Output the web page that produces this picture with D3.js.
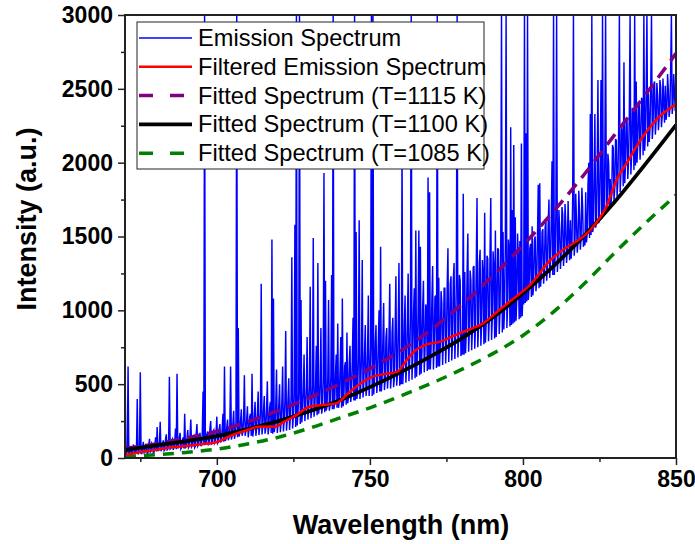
<!DOCTYPE html>
<html><head><meta charset="utf-8">
<script src="https://cdn.jsdelivr.net/npm/d3@7"></script>
<style>body{margin:0;background:#fff}svg{display:block}</style>
</head><body><svg id="c" width="695" height="544"></svg>
<script>
// ---------- DATA ----------
const emissionStart = 670, emissionStep = 0.25;
const emission = [
 690,25,30,45, 620,20,15,70, 60,20,25,85, 80,30,30,60, 400,25,35,90,
 580,30,30,75, 110,35,40,95, 75,30,35,85, 130,40,45,100, 90,35,40,80,
 140,45,210,50, 50,110,245,45, 60,95,120,50, 55,130,160,55, 60,100,550,60,
 65,120,130,55, 70,110,200,60, 570,65,75,140, 170,60,70,120, 140,65,300,70,
 75,130,190,70, 80,150,260,75, 85,140,150,70, 80,160,230,80, 90,140,170,85,
 85,170,450,90, 3000,95,100,160, 180,90,95,200, 250,95,100,180, 190,100,110,170,
 280,100,110,190, 230,105,120,200, 300,110,620,115, 130,210,260,120, 140,220,620,125,
 150,230,320,130, 160,240,3000,140, 880,145,170,250, 330,150,175,270, 560,150,185,260,
 350,140,190,280, 300,150,570,145, 195,290,380,150, 200,300,450,155, 205,310,1180,160,
 210,320,420,165, 200,330,520,160, 210,340,380,170, 1480,165,1080,175, 215,350,600,170,
 230,360,500,175, 240,380,620,180, 250,390,860,185, 260,400,540,190, 270,420,1360,200,
 280,430,1580,210, 3000,220,300,440, 3000,230,1070,240, 310,460,700,250, 330,470,820,260,
 340,480,1160,270, 330,490,1490,280, 340,500,760,290, 1320,300,350,510, 880,300,340,520,
 1930,310,1200,320, 350,540,1070,320, 360,550,1240,330, 3000,330,370,560, 700,340,910,340,
 380,600,820,340, 1080,350,400,620, 650,360,850,370, 410,640,760,380, 440,660,950,390,
 3000,390,1530,400, 450,680,1610,400, 480,700,1340,410, 500,720,900,420, 480,740,1100,420,
 520,760,3000,420, 3000,430,530,780, 900,440,520,790, 1000,450,1430,450, 540,810,1050,460,
 530,820,880,470, 560,840,1180,470, 550,850,950,480, 540,870,1230,490, 560,880,1320,490,
 600,500,2100,500, 620,900,1100,510, 640,930,1250,520, 660,950,3000,530, 680,980,1150,540,
 1540,550,700,1000, 1540,560,1430,570, 720,1020,1200,580, 730,1040,1000,590, 1900,600,1800,600,
 740,1070,1300,600, 760,1090,1100,610, 3000,620,1220,620, 770,1130,1050,630, 780,1150,1150,640,
 790,1160,1420,650, 800,1180,1230,660, 810,1200,1320,670, 820,1220,3000,680, 830,1240,1200,690,
 840,700,1790,700, 1260,710,850,1250, 1520,720,860,1270, 1200,730,870,1290, 1300,740,880,1300,
 1760,750,890,1320, 1410,760,900,1340, 1250,770,1660,780, 920,1370,1350,790, 940,1390,1760,800,
 950,1400,1300,810, 1540,820,970,1420, 1410,840,990,1440, 3000,850,1530,870, 1010,1460,3000,880,
 1030,1480,1400,890, 2240,900,1680,910, 2120,920,1630,930, 1080,1520,1350,940, 1470,950,2130,960,
 1120,1040,3000,1050, 2200,1060,3000,1070, 1150,1420,1450,1090, 1570,1100,1180,1480, 1500,1130,1200,1500,
 1850,1150,1860,1160, 1250,1530,1550,1180, 1270,1560,1600,1200, 1300,1590,1750,1220, 1320,1620,2010,1240,
 3000,1240,1350,1650, 3000,1260,1370,1680, 1550,1280,1390,1700, 1650,1300,1400,1720, 1580,1320,1420,1740,
 1500,1340,1610,1350, 1440,1760,3000,1370, 1460,1790,1600,1390, 1470,1810,1650,1410, 1490,1830,1700,1430,
 1500,1440,1800,1460, 1520,1850,2000,1490, 2330,1510,3000,1530, 1560,1900,2330,1560, 1600,1940,2560,1590,
 1630,1980,2560,1620, 3000,1640,1660,2020, 3000,1680,1700,2060, 2000,1700,1890,1720, 1780,2120,2100,1740,
 1830,2160,2150,1770, 1870,2200,3000,1800, 1920,2240,2200,1840, 2680,1860,1980,2290, 2300,1890,2010,2330,
 3000,1920,2050,2370, 2350,1950,3000,1980, 2550,2000,2110,2410, 2400,2020,2150,2440, 2420,2050,3000,2080,
 2180,2480,3000,2110, 2470,2140,2230,2510, 3000,2160,2250,2530, 2550,2190,2280,2540, 2450,2220,2300,2560,
 2510,2240,2320,2570, 2400,2270,2520,2290, 2340,2600,2490,2310, 2360,2620,3000,2330, 2380,2600,2470,2350,
 2400
];
const filteredWl = [670,675,680,685,690,695,700,705,710,714,719,722,726,730,735,739,743,747,751,755,759,762,765,768,773,778,782,787,791,797,802,809,813,822,827,831,834,838,844,850];
const filteredVal = [20,40,55,72,82,93,108,155,190,212,212,246,290,345,360,370,440,506,551,569,585,663,731,765,788,833,867,912,980,1081,1165,1341,1408,1544,1691,1900,2000,2140,2300,2395];
const fitWl = [670,680,690,700,710,720,730,740,750,760,770,780,790,800,810,820,830,840,850];
const fit1115 = [65,95,135,180,245,320,405,500,605,725,870,1040,1230,1440,1670,1920,2190,2460,2740];
const fit1100 = [55,85,115,148,195,250,315,390,480,580,690,810,950,1115,1300,1505,1735,1990,2255];
const fit1085 = [8,22,38,60,95,140,200,270,340,420,505,600,705,830,990,1180,1390,1590,1780];
const xTicksMajor = [700,750,800,850];
const xTicksMinor = [675,725,775,825];
const yTicksMajor = [0,500,1000,1500,2000,2500,3000];
const yTicksMinor = [250,750,1250,1750,2250,2750];
const legendLabels = ["Emission Spectrum","Filtered Emission Spectrum","Fitted Spectrum (T=1115 K)","Fitted Spectrum (T=1100 K)","Fitted Spectrum (T=1085 K)"];

// ---------- CHART ----------
const svg = d3.select("#c");
const L=125,R=676,T=15,B=458;
const x = d3.scaleLinear().domain([670,850]).range([L,R]);
const y = d3.scaleLinear().domain([0,3000]).range([B,T]);
const font = "'Liberation Sans', Arial, sans-serif";

svg.append("defs").append("clipPath").attr("id","clip")
  .append("rect").attr("x",L).attr("y",T).attr("width",R-L).attr("height",B-T);
const g = svg.append("g").attr("clip-path","url(#clip)");

const emPts = emission.map((v,i)=>[emissionStart+i*emissionStep, v]);
const line = d3.line().x(d=>x(d[0])).y(d=>y(d[1]));
g.append("path").datum(emPts).attr("d",line).attr("fill","none").attr("stroke","#0000ff").attr("stroke-width",1.45);

const smooth = d3.line().x(d=>x(d[0])).y(d=>y(d[1])).curve(d3.curveMonotoneX);
g.append("path").datum(fitWl.map((w,i)=>[w,fit1085[i]])).attr("d",smooth)
 .attr("fill","none").attr("stroke","#008000").attr("stroke-width",3.5).attr("stroke-dasharray","11,8");
g.append("path").datum(fitWl.map((w,i)=>[w,fit1115[i]])).attr("d",smooth)
 .attr("fill","none").attr("stroke","#800080").attr("stroke-width",3.5).attr("stroke-dasharray","13,8");
g.append("path").datum(fitWl.map((w,i)=>[w,fit1100[i]])).attr("d",smooth)
 .attr("fill","none").attr("stroke","#000").attr("stroke-width",3.8);
g.append("path").datum(filteredWl.map((w,i)=>[w,filteredVal[i]])).attr("d",smooth)
 .attr("fill","none").attr("stroke","#ff0000").attr("stroke-width",2.5);

// axes
const xAxis = d3.axisBottom(x).tickValues(xTicksMajor).tickSize(7).tickPadding(6).tickFormat(d3.format("d"));
const xAxisMinor = d3.axisBottom(x).tickValues(xTicksMinor).tickSize(4).tickFormat("");
const yAxis = d3.axisLeft(y).tickValues(yTicksMajor).tickSize(7).tickPadding(5).tickFormat(d3.format("d"));
const yAxisMinor = d3.axisLeft(y).tickValues(yTicksMinor).tickSize(4).tickFormat("");
function style(sel){
  sel.select(".domain").remove();
  sel.selectAll("line").attr("stroke","#222").attr("stroke-width",1.5);
  sel.selectAll("text").attr("font-family",font).attr("font-weight","bold").attr("font-size",23).attr("fill","#000");
}
svg.append("g").attr("transform",`translate(0,${B})`).call(xAxis).call(style);
svg.append("g").attr("transform",`translate(0,${B})`).call(xAxisMinor).call(style);
svg.append("g").attr("transform",`translate(${L},0)`).call(yAxis).call(style);
svg.append("g").attr("transform",`translate(${L},0)`).call(yAxisMinor).call(style);

svg.append("rect").attr("x",L).attr("y",T).attr("width",R-L).attr("height",B-T)
 .attr("fill","none").attr("stroke","#222").attr("stroke-width",2);

svg.append("text").attr("x",401).attr("y",534).attr("text-anchor","middle")
 .attr("font-family",font).attr("font-weight","bold").attr("font-size",27).text("Wavelength (nm)");
svg.append("text").attr("transform","translate(36,219) rotate(-90)").attr("text-anchor","middle")
 .attr("font-family",font).attr("font-weight","bold").attr("font-size",27).text("Intensity (a.u.)");

// legend
const lg = svg.append("g");
lg.append("rect").attr("x",137).attr("y",22).attr("width",347).attr("height",147)
 .attr("fill","#fff").attr("stroke","#222").attr("stroke-width",1);
const legStyles = [
 {c:"#0000ff",w:1.3,d:null},{c:"#ff0000",w:2.5,d:null},{c:"#800080",w:3.5,d:"14,17"},
 {c:"#000",w:3.8,d:null},{c:"#008000",w:3.5,d:"14,17"}];
legendLabels.forEach((t,i)=>{
  const yy = 38 + i*28.8;
  const s = legStyles[i];
  lg.append("line").attr("x1",139).attr("x2",192).attr("y1",yy).attr("y2",yy)
    .attr("stroke",s.c).attr("stroke-width",s.w).attr("stroke-dasharray",s.d);
  lg.append("text").attr("x",198).attr("y",yy+8).attr("font-family",font).attr("font-size",23.6).text(t);
});
</script></body></html>
